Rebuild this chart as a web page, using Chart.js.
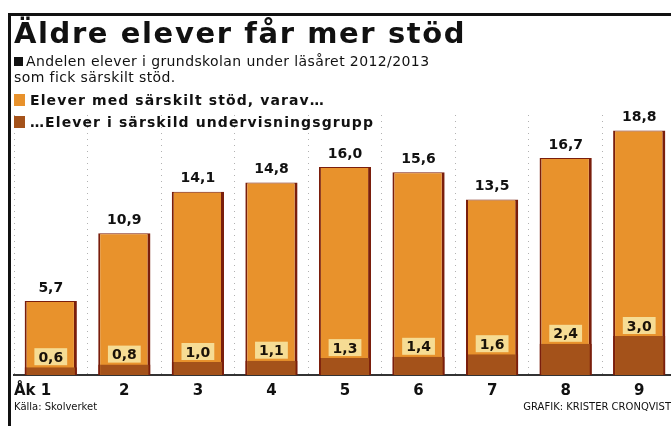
<!DOCTYPE html>
<html>
<head>
<meta charset="utf-8">
<script src="https://cdn.jsdelivr.net/npm/chart.js@4/dist/chart.umd.min.js"></script>
<style>
  html, body { margin: 0; padding: 0; background: #fff; }
  body { width: 671px; height: 426px; overflow: hidden; position: relative; font-family: "DejaVu Sans", sans-serif; }
  .frame-top { position: absolute; left: 8px; top: 13px; width: 700px; height: 3px; background: #111; }
  .frame-left { position: absolute; left: 8px; top: 13px; width: 3px; height: 420px; background: #111; }
  #title { position: absolute; left: 14px; top: 16px; font-size: 29px; font-weight: 900; color: #111; letter-spacing: 1.6px; white-space: nowrap; }
  #sub { position: absolute; left: 14px; top: 53px; font-size: 14px; line-height: 16px; color: #111; letter-spacing: 0.4px; white-space: nowrap; }
  #sub .sq { display: inline-block; width: 9px; height: 9px; background: #111; margin-right: 3px; }
  .leg { position: absolute; left: 14px; font-size: 14px; font-weight: bold; color: #111; letter-spacing: 1.1px; white-space: nowrap; }
  .leg .sq { display: inline-block; width: 11px; height: 12px; margin-right: 5px; vertical-align: -1px; }
  .foot { position: absolute; top: 401px; font-size: 10px; color: #111; white-space: nowrap; }
  #wrap { position: absolute; left: 0; top: 0; width: 690px; height: 426px; }
</style>
</head>
<body>
<div id="wrap"><canvas id="chart"></canvas></div>
<div class="frame-top"></div>
<div class="frame-left"></div>
<div id="title">Äldre elever får mer stöd</div>
<div id="sub"><span class="sq"></span>Andelen elever i grundskolan under läsåret 2012/2013<br>som fick särskilt stöd.</div>
<div class="leg" id="leg1" style="top:92px"><span class="sq" style="background:#e8922c"></span>Elever med särskilt stöd, varav…</div>
<div class="leg" id="leg2" style="top:114px"><span class="sq" style="background:#a4521a"></span>…Elever i särskild undervisningsgrupp</div>
<div class="foot" style="left:14px">Källa: Skolverket</div>
<div class="foot" style="right:0px">GRAFIK: KRISTER CRONQVIST</div>
<script>
/* ── Data ─────────────────────────────────────────────── */
// trailing spaces pull "Åk 1" left, as in the original print
const GRADES = ["Åk 1       ", "2", "3", "4", "5", "6", "7", "8", "9"];
const SUPPORT_TOTAL = [5.7, 10.9, 14.1, 14.8, 16.0, 15.6, 13.5, 16.7, 18.8];
const SPECIAL_GROUP = [0.6, 0.8, 1.0, 1.1, 1.3, 1.4, 1.6, 2.4, 3.0];

const ORANGE = "#e8922c";
const BROWN  = "#a4521a";
const EDGE   = "#7a1e0c";

const fmt = (v) => v.toFixed(1).replace(".", ",");

/* ── Value labels ─────────────────────────────────────── */
const valueLabels = {
  id: "valueLabels",
  afterDatasetsDraw(chart) {
    const ctx = chart.ctx;
    ctx.save();
    ctx.font = "bold 14px 'DejaVu Sans', sans-serif";
    ctx.textAlign = "center";
    ctx.textBaseline = "middle";
    chart.data.datasets.forEach((ds, di) => {
      const meta = chart.getDatasetMeta(di);
      meta.data.forEach((bar, i) => {
        const txt = fmt(ds.data[i]);
        if (ds.inner) {
          const y = bar.y - 10;
          const w = ctx.measureText(txt).width + 8;
          ctx.fillStyle = "#f6dc94";
          ctx.fillRect(bar.x - w / 2, y - 9, w, 17);
          ctx.fillStyle = "#1a1208";
          ctx.fillText(txt, bar.x, y + 1);
        } else {
          ctx.fillStyle = "#111";
          ctx.fillText(txt, bar.x, bar.y - 13);
        }
      });
    });
    ctx.restore();
  },
};

/* ── Chart ────────────────────────────────────────────── */
new Chart(document.getElementById("chart"), {
  type: "bar",
  data: {
    labels: GRADES,
    datasets: [
      {
        label: "…Elever i särskild undervisningsgrupp",
        data: SPECIAL_GROUP,
        inner: true,
        backgroundColor: BROWN,
        borderColor: EDGE,
        borderWidth: { left: 2, right: 2, top: 0, bottom: 0 },
        borderSkipped: false,
        order: 0,
      },
      {
        label: "Elever med särskilt stöd, varav…",
        data: SUPPORT_TOTAL,
        backgroundColor: ORANGE,
        borderColor: EDGE,
        borderWidth: { left: 2, right: 3, top: 1, bottom: 0 },
        borderSkipped: false,
        order: 1,
      },
    ],
  },
  options: {
    responsive: true,
    maintainAspectRatio: false,
    animation: false,
    events: [],
    layout: { padding: { left: 14, right: 14, top: 115, bottom: 19 } },
    datasets: { bar: { barPercentage: 0.71, categoryPercentage: 1 } },
    plugins: { legend: { display: false }, tooltip: { enabled: false } },
    scales: {
      x: {
        stacked: true,
        grid: { display: true, offset: true, color: "rgba(0,0,0,0.3)", lineWidth: 1, drawTicks: false },
        border: { display: true, color: "#333", width: 2, dash: [1, 5] },
        ticks: {
          color: "#111",
          font: { family: "'DejaVu Sans', sans-serif", size: 15, weight: "bold" },
          padding: 7,
          maxRotation: 0,
          minRotation: 0,
          autoSkip: false,
        },
      },
      y: {
        stacked: false,
        min: 0,
        max: 20,
        display: false,
      },
    },
  },
  plugins: [valueLabels],
});
</script>
</body>
</html>
